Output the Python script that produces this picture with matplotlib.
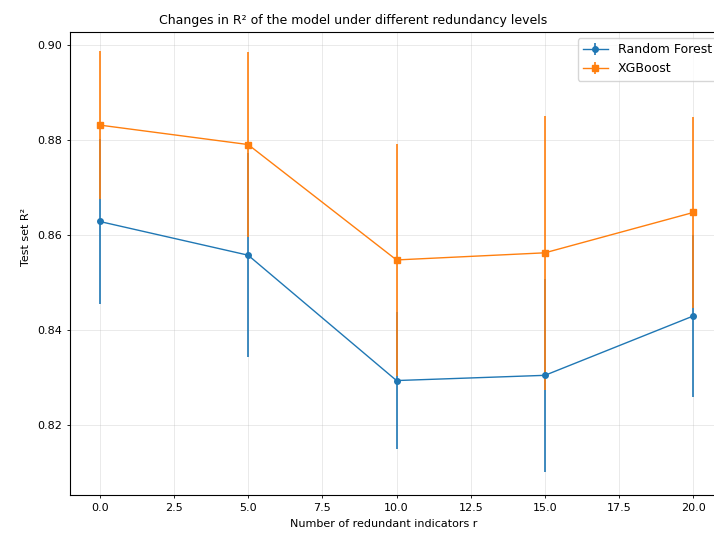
import matplotlib
matplotlib.use('Agg')
import matplotlib.pyplot as plt

# redundancy levels and test-set R^2 (mean and std)
r_levels = [0, 5, 10, 15, 20]
rf_mean = [0.8629, 0.8558, 0.8294, 0.8305, 0.8430]
rf_std = [0.0173, 0.0215, 0.0144, 0.0203, 0.0170]
xgb_mean = [0.8832, 0.8791, 0.8548, 0.8563, 0.8648]
xgb_std = [0.0155, 0.0195, 0.0245, 0.0289, 0.0201]

fig = plt.figure(figsize=(7.14, 5.36), dpi=100)
# axes runs a bit past the right edge, like the cropped original
ax = fig.add_axes([70 / 714, 1 - 495 / 536, (723 - 70) / 714, (495 - 32) / 536])

ax.errorbar(r_levels, rf_mean, yerr=rf_std, marker='o', markersize=4,
            linewidth=1.0, elinewidth=1.2, color='#1f77b4', label='Random Forest')
ax.errorbar(r_levels, xgb_mean, yerr=xgb_std, marker='s', markersize=4,
            linewidth=1.0, elinewidth=1.2, color='#ff7f0e', label='XGBoost')

ax.set_xlim(-1, 21)
ax.set_ylim(0.8053, 0.9028)
ax.set_xticks([0, 2.5, 5, 7.5, 10, 12.5, 15, 17.5, 20])
ax.set_yticks([0.82, 0.84, 0.86, 0.88, 0.90])
ax.tick_params(labelsize=8, length=2.5, width=0.6)
for s in ax.spines.values():
    s.set_linewidth(0.8)

ax.set_title('Changes in R² of the model under different redundancy levels',
             fontsize=9, pad=6, x=0.433)
ax.set_xlabel('Number of redundant indicators r', fontsize=8, x=0.481)
ax.set_ylabel('Test set R²', fontsize=8, y=0.557)
ax.grid(True, alpha=0.3, linewidth=0.6)
ax.legend(loc='upper right', fontsize=9)

plt.savefig('out.png', dpi=100)
